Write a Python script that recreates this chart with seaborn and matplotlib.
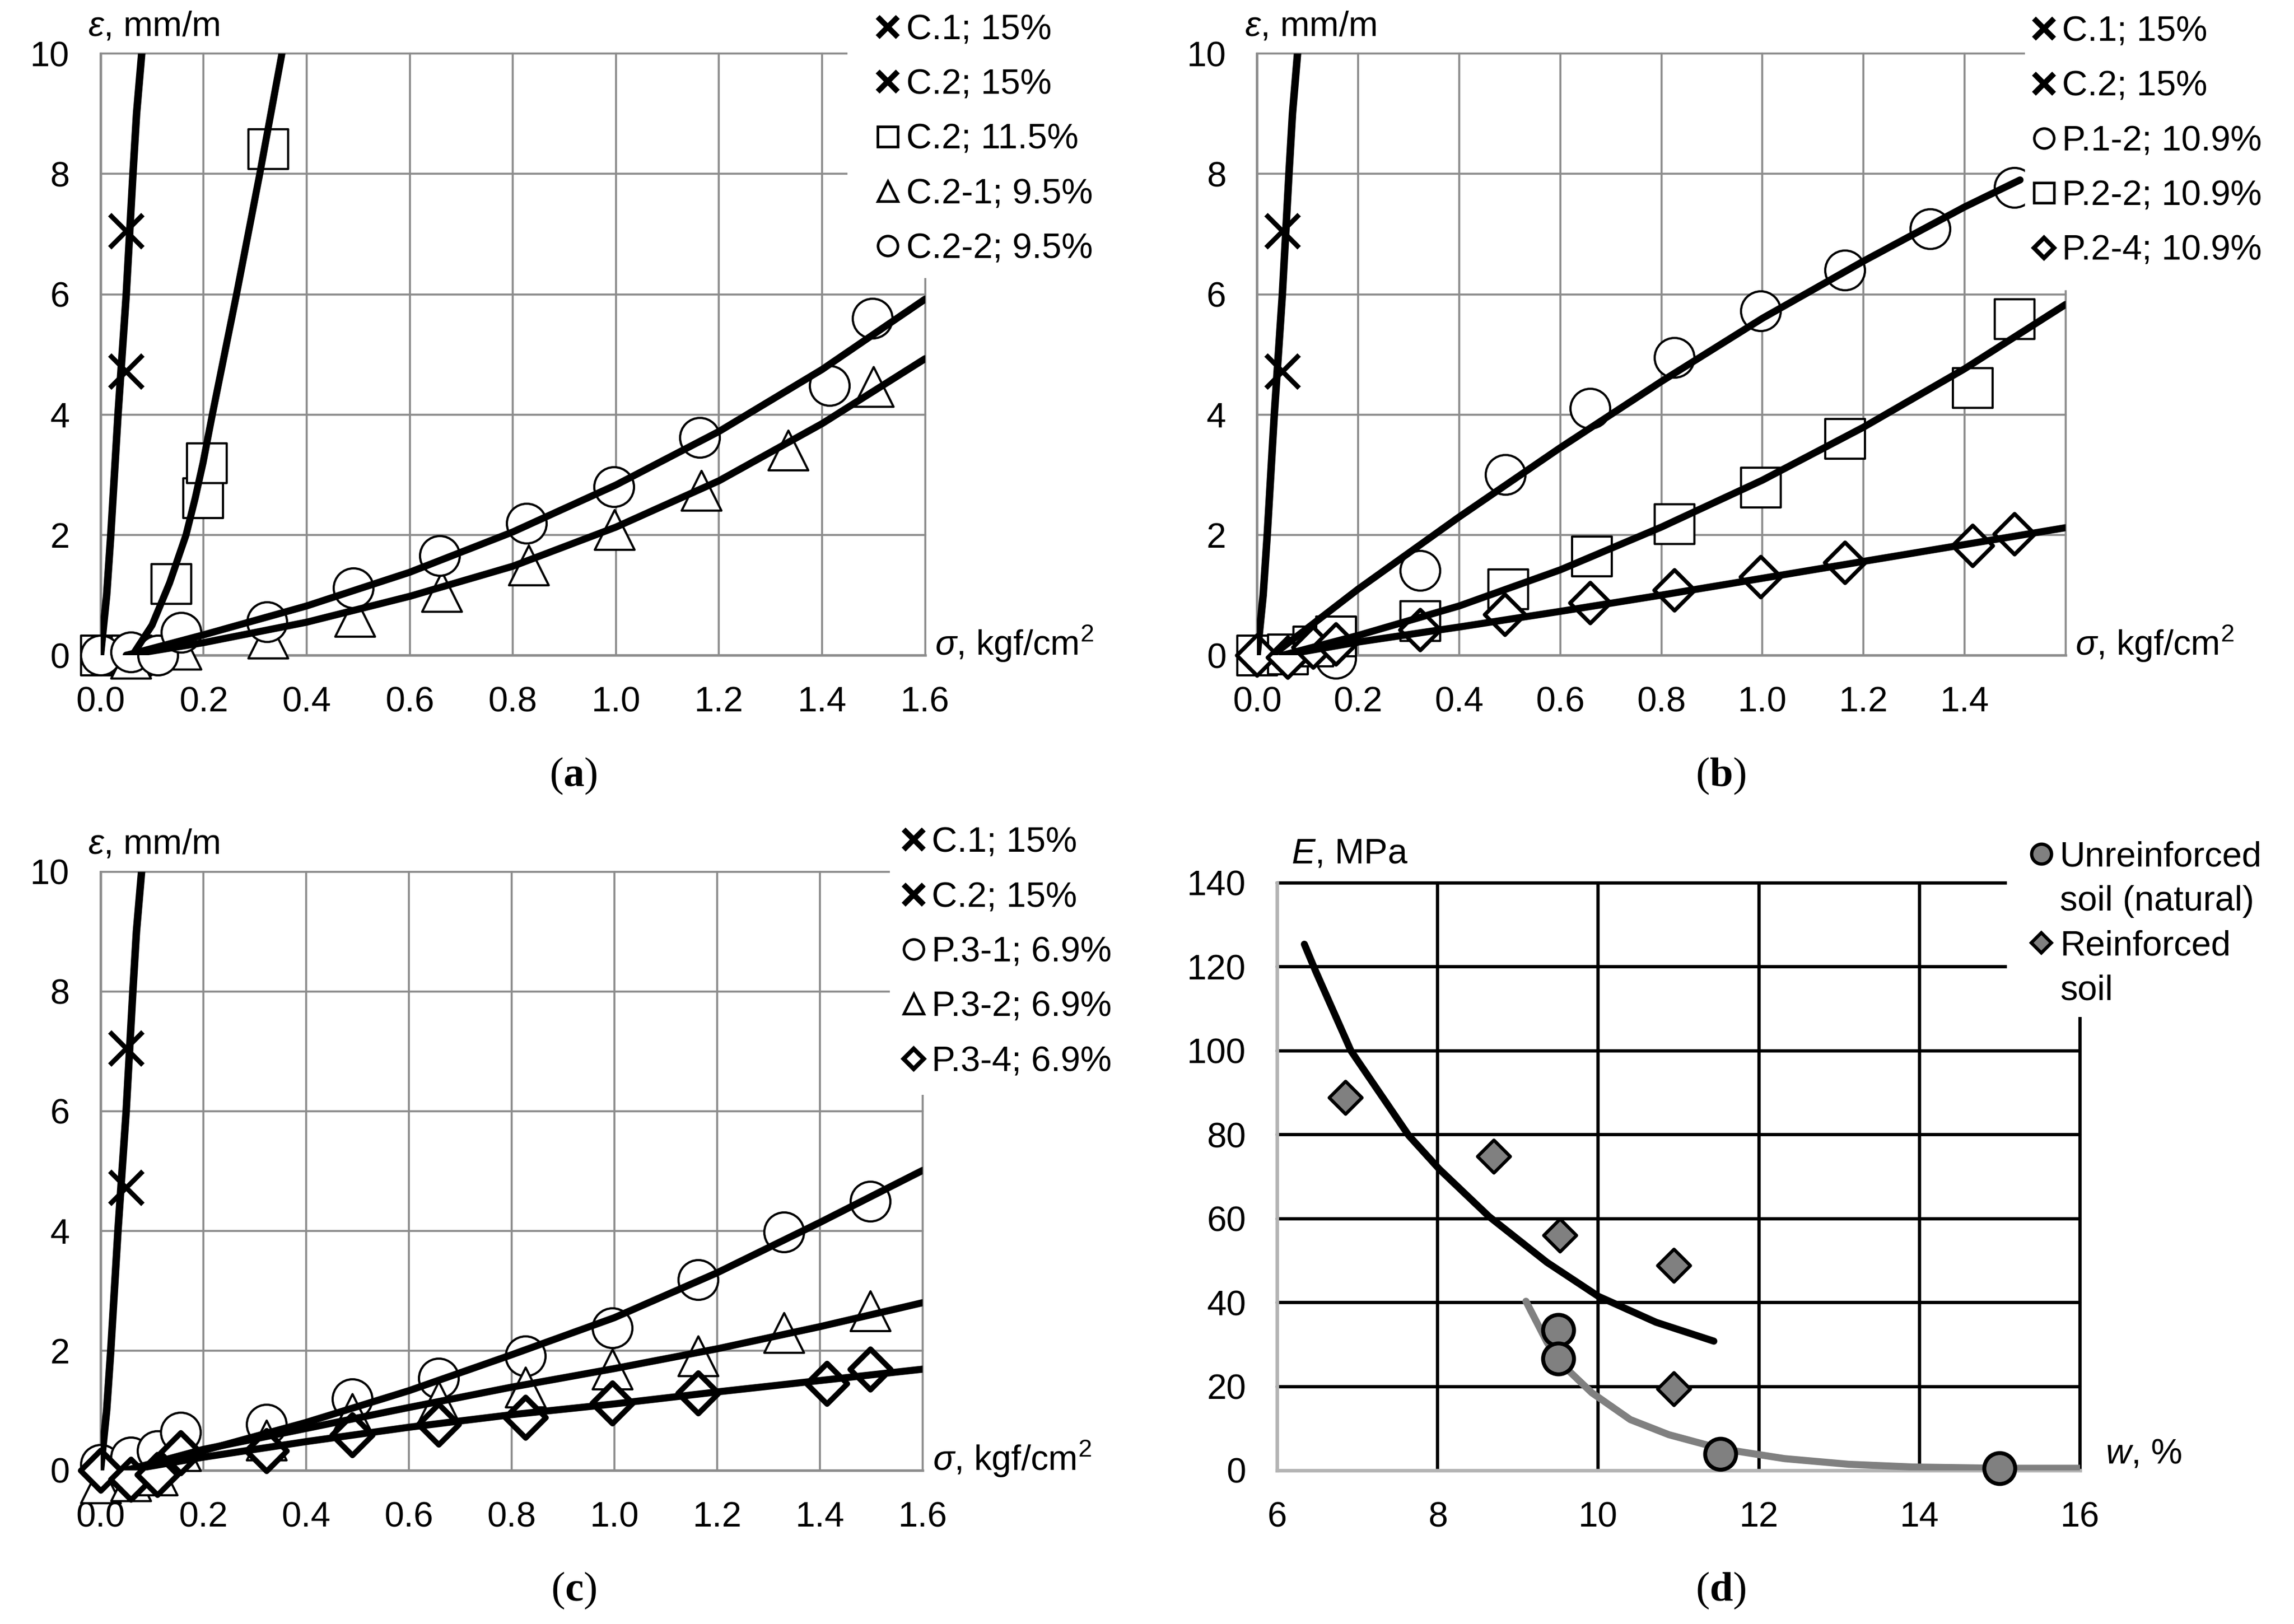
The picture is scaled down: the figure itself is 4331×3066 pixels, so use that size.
import numpy as np
import matplotlib
matplotlib.use("Agg")
import matplotlib.pyplot as plt
from matplotlib.lines import Line2D
from matplotlib.patches import Rectangle
import seaborn as sns


# ---- data ----

# sigma, kgf/cm2 -> epsilon, mm/m

# C.1 / C.2 at 15 % (same points in a, b and c)
CROSS_X = [0.05, 0.05]
CROSS_Y = [7.05, 4.72]
STEEP_X = [0.0, 0.012, 0.02, 0.034, 0.05, 0.063, 0.07, 0.08]
STEEP_Y = [0.0, 1.0, 2.0, 4.0, 6.0, 8.0, 9.0, 10.0]

# (a)
A_SQ_X = [0.0, 0.06, 0.137, 0.199, 0.206, 0.325]
A_SQ_Y = [0.0, 0.0, 1.19, 2.62, 3.2, 8.42]
A_TRI_X = [0.059, 0.156, 0.325, 0.494, 0.662, 0.831, 0.997, 1.166, 1.334, 1.5]
A_TRI_Y = [-0.05, 0.1, 0.28, 0.64, 1.06, 1.5, 2.09, 2.74, 3.41, 4.46]
A_CIR_X = [0.0, 0.059, 0.111, 0.156, 0.323, 0.49, 0.658, 0.827, 0.996, 1.163, 1.414, 1.498]
A_CIR_Y = [0.0, 0.05, 0.0, 0.38, 0.56, 1.12, 1.66, 2.19, 2.8, 3.62, 4.48, 5.6]

A_SQ_FIT_X = [0.062, 0.1, 0.134, 0.166, 0.184, 0.199, 0.217, 0.264, 0.309, 0.352]
A_SQ_FIT_Y = [0.0, 0.5, 1.2, 2.0, 2.62, 3.2, 4.0, 6.0, 8.0, 10.0]
FIT_X = [0.05, 0.2, 0.4, 0.6, 0.8, 1.0, 1.2, 1.4, 1.6]
A_TRI_FIT_Y = [0.0, 0.21, 0.55, 0.98, 1.48, 2.13, 2.9, 3.85, 4.93]
A_CIR_FIT_Y = [0.0, 0.34, 0.82, 1.38, 2.05, 2.83, 3.72, 4.75, 5.92]

# (b)
B_CIR_X = [0.0, 0.156, 0.322, 0.491, 0.659, 0.826, 0.997, 1.163, 1.332, 1.499]
B_CIR_Y = [0.0, -0.05, 1.41, 3.0, 4.1, 4.95, 5.72, 6.4, 7.09, 7.77]
B_SQ_X = [0.0, 0.06, 0.111, 0.156, 0.323, 0.496, 0.662, 0.826, 0.997, 1.163, 1.416, 1.499]
B_SQ_Y = [0.0, 0.02, 0.15, 0.32, 0.57, 1.1, 1.65, 2.18, 2.79, 3.6, 4.45, 5.59]
B_DIA_X = [0.0, 0.06, 0.111, 0.156, 0.322, 0.49, 0.659, 0.826, 0.997, 1.163, 1.416, 1.499]
B_DIA_Y = [0.0, -0.03, 0.13, 0.19, 0.42, 0.68, 0.87, 1.08, 1.3, 1.54, 1.82, 2.02]

B_CIR_FIT_X = [0.03, 0.2, 0.4, 0.6, 0.8, 1.0, 1.2, 1.4, 1.51]
B_CIR_FIT_Y = [0.0, 1.1, 2.3, 3.45, 4.55, 5.6, 6.55, 7.45, 7.9]
B_SQ_FIT_Y = [0.0, 0.33, 0.82, 1.42, 2.13, 2.91, 3.79, 4.76, 5.83]
B_DIA_FIT_Y = [0.0, 0.22, 0.47, 0.73, 1.0, 1.28, 1.56, 1.84, 2.12]

# (c)
C_X = [0.0, 0.059, 0.111, 0.156, 0.323, 0.49, 0.658, 0.827, 0.996, 1.163, 1.33, 1.498]
C_CIR_Y = [0.1, 0.22, 0.33, 0.64, 0.77, 1.19, 1.54, 1.91, 2.38, 3.18, 3.98, 4.49]
C_TRI_Y = [-0.21, -0.18, -0.08, 0.33, 0.5, 0.95, 1.15, 1.39, 1.69, 1.91, 2.3, 2.66]
C_DIA_X = [0.0, 0.059, 0.111, 0.156, 0.323, 0.49, 0.658, 0.827, 0.996, 1.163, 1.414, 1.498]
C_DIA_Y = [0.0, -0.15, -0.07, 0.29, 0.33, 0.59, 0.77, 0.88, 1.125, 1.29, 1.45, 1.69]

C_CIR_FIT_Y = [0.0, 0.33, 0.8, 1.33, 1.93, 2.55, 3.3, 4.14, 5.01]
C_TRI_FIT_Y = [0.0, 0.35, 0.7, 1.05, 1.39, 1.7, 2.03, 2.4, 2.8]
C_DIA_FIT_Y = [0.0, 0.22, 0.48, 0.72, 0.93, 1.11, 1.31, 1.5, 1.69]

# (d)  w, % -> E, MPa
D_UNR_W = [9.5, 9.5, 11.52, 15.0]
D_UNR_E = [33.5, 26.6, 3.9, 0.45]
D_REI_W = [6.85, 8.7, 9.52, 10.94, 10.94]
D_REI_E = [88.9, 74.8, 56.1, 48.9, 19.4]

D_REI_FIT_W = [6.34, 6.48, 6.92, 7.64, 8.02, 8.64, 9.36, 10.0, 10.72, 11.44]
D_REI_FIT_E = [125.4, 119.0, 100.0, 79.8, 71.8, 60.5, 49.6, 41.5, 35.3, 30.8]
D_UNR_FIT_W = [9.1, 9.36, 9.52, 9.92, 10.4, 10.88, 11.52, 12.32, 13.12, 13.92, 15.0, 16.0]
D_UNR_FIT_E = [40.3, 30.6, 25.8, 18.5, 12.1, 8.5, 5.2, 2.8, 1.45, 0.8, 0.5, 0.5]

SIG_TICKS = [0.0, 0.2, 0.4, 0.6, 0.8, 1.0, 1.2, 1.4, 1.6]
EPS_TICKS = [0, 2, 4, 6, 8, 10]
W_TICKS = [6, 8, 10, 12, 14, 16]
E_TICKS = [0, 20, 40, 60, 80, 100, 120, 140]

LABELS_A = ["C.1; 15%", "C.2; 15%", "C.2; 11.5%", "C.2-1; 9.5%", "C.2-2; 9.5%"]
LABELS_B = ["C.1; 15%", "C.2; 15%", "P.1-2; 10.9%", "P.2-2; 10.9%", "P.2-4; 10.9%"]
LABELS_C = ["C.1; 15%", "C.2; 15%", "P.3-1; 6.9%", "P.3-2; 6.9%", "P.3-4; 6.9%"]
LABELS_D = ["Unreinforced", "soil (natural)", "Reinforced", "soil"]


FS = 16
GRID = "#8c8c8c"
DGRAY = "#808080"


def points(ax, x, y, marker, size, lw, fc="white", z=3):
    if marker == "x":
        sns.scatterplot(x=x, y=y, ax=ax, marker="x", s=size ** 2, color="black",
                        linewidth=lw, zorder=z, clip_on=False, legend=False)
    else:
        sns.scatterplot(x=x, y=y, ax=ax, marker=marker, s=size ** 2, facecolor=fc,
                        edgecolor="black", linewidth=lw, zorder=z, clip_on=False,
                        legend=False)


def trend(ax, x, y, color="black", lw=3.2, z=4):
    sns.lineplot(x=x, y=y, ax=ax, color=color, linewidth=lw, estimator=None,
                 sort=False, zorder=z, legend=False)


def handle(marker, size, lw, fc="white"):
    if marker == "x":
        return Line2D([], [], ls="none", marker="x", ms=size, mew=lw, color="black")
    if marker is None:
        return Line2D([], [], ls="none", marker=None)
    return Line2D([], [], ls="none", marker=marker, ms=size, mew=lw, mfc=fc, mec="black")


def legend_box(ax, handles, labels, anchor, box, spacing):
    # white patch hides the grid behind the legend, like the original
    ax.add_patch(Rectangle(box, 0.32, 0.6, transform=ax.transAxes, facecolor="white",
                           edgecolor="none", zorder=10, clip_on=False))
    leg = ax.legend(handles, labels, loc="upper left", bbox_to_anchor=anchor,
                    frameon=False, borderpad=0, borderaxespad=0, handlelength=0.6,
                    handletextpad=0.22, labelspacing=spacing, fontsize=FS)
    leg.set_zorder(11)


def sigma_axes(ax):
    ax.set_xlim(0, 1.6)
    ax.set_ylim(0, 10)
    ax.set_xticks(SIG_TICKS, labels=[f"{v:.1f}" for v in SIG_TICKS])
    ax.set_yticks(EPS_TICKS, labels=[str(v) for v in EPS_TICKS])
    ax.grid(True, color=GRID, linewidth=0.9)
    ax.set_axisbelow(True)
    for g in ax.get_xgridlines() + ax.get_ygridlines():
        g.set_clip_on(False)
    for s in ["top", "right"]:
        ax.spines[s].set_visible(False)
    for s in ["left", "bottom"]:
        ax.spines[s].set_color(GRID)
        ax.spines[s].set_linewidth(1.1)
    ax.tick_params(length=0, pad=14, labelsize=FS)
    ax.set_xlabel("")
    ax.set_ylabel("")
    ax.text(-0.015, 1.045, r"$\mathit{ε}$, mm/m", transform=ax.transAxes,
            ha="left", va="center", fontsize=FS)
    ax.text(1.012, 0.0, r"$\mathit{σ}$, kgf/cm$^{2}$", transform=ax.transAxes,
            ha="left", va="baseline", fontsize=FS)


def steep(ax):
    points(ax, CROSS_X, CROSS_Y, "x", 15, 2.2)
    trend(ax, STEEP_X, STEEP_Y, lw=3.4)


def main():
    sns.set_theme(style="white")
    plt.rcParams["font.family"] = ["Liberation Sans", "DejaVu Sans"]
    plt.rcParams["mathtext.fontset"] = "custom"
    plt.rcParams["mathtext.rm"] = "Liberation Sans"
    plt.rcParams["mathtext.it"] = "Liberation Sans:italic"
    plt.rcParams["mathtext.bf"] = "Liberation Serif:bold"
    plt.rcParams["text.color"] = "black"
    plt.rcParams["xtick.color"] = "black"
    plt.rcParams["ytick.color"] = "black"

    fig = plt.figure(figsize=(4331 / 300, 3066 / 300), dpi=300)

    ax_a = fig.add_axes([0.0438, 0.5965, 0.3595, 0.3705])
    ax_b = fig.add_axes([0.548, 0.5965, 0.3524, 0.3705])
    ax_c = fig.add_axes([0.0438, 0.0946, 0.3584, 0.3687])
    ax_d = fig.add_axes([0.5567, 0.0946, 0.350, 0.3617])

    # (a)
    steep(ax_a)
    points(ax_a, A_SQ_X, A_SQ_Y, "s", 18, 1.0)
    points(ax_a, A_TRI_X, A_TRI_Y, "^", 18, 1.0)
    points(ax_a, A_CIR_X, A_CIR_Y, "o", 18, 1.0)
    trend(ax_a, A_SQ_FIT_X, A_SQ_FIT_Y)
    trend(ax_a, FIT_X, A_TRI_FIT_Y)
    trend(ax_a, FIT_X, A_CIR_FIT_Y)
    sigma_axes(ax_a)
    legend_box(ax_a,
               [handle("x", 9, 2.5), handle("x", 9, 2.5), handle("s", 9, 1.2),
                handle("^", 9, 1.2), handle("o", 9, 1.2)],
               LABELS_A, (0.942, 1.066), (0.906, 0.627), 0.62)

    # (b)
    steep(ax_b)
    points(ax_b, B_CIR_X, B_CIR_Y, "o", 18, 1.0)
    points(ax_b, B_SQ_X, B_SQ_Y, "s", 18, 1.0)
    points(ax_b, B_DIA_X, B_DIA_Y, "D", 13, 1.8)
    trend(ax_b, B_CIR_FIT_X, B_CIR_FIT_Y)
    trend(ax_b, FIT_X, B_SQ_FIT_Y)
    trend(ax_b, FIT_X, B_DIA_FIT_Y)
    sigma_axes(ax_b)
    legend_box(ax_b,
               [handle("x", 9, 2.5), handle("x", 9, 2.5), handle("o", 9, 1.2),
                handle("s", 9, 1.2), handle("D", 6.5, 2.0)],
               LABELS_B, (0.960, 1.063), (0.950, 0.607), 0.62)

    # (c)
    steep(ax_c)
    points(ax_c, C_X, C_CIR_Y, "o", 18, 1.0)
    points(ax_c, C_X, C_TRI_Y, "^", 18, 1.0)
    points(ax_c, C_DIA_X, C_DIA_Y, "D", 13, 2.5)
    trend(ax_c, FIT_X, C_CIR_FIT_Y)
    trend(ax_c, FIT_X, C_TRI_FIT_Y)
    trend(ax_c, FIT_X, C_DIA_FIT_Y)
    sigma_axes(ax_c)
    legend_box(ax_c,
               [handle("x", 9, 2.5), handle("x", 9, 2.5), handle("o", 9, 1.2),
                handle("^", 9, 1.2), handle("D", 6.5, 2.0)],
               LABELS_C, (0.976, 1.075), (0.960, 0.627), 0.62)

    # (d)
    trend(ax_d, D_REI_FIT_W, D_REI_FIT_E, color="black", lw=3.2, z=3)
    trend(ax_d, D_UNR_FIT_W, D_UNR_FIT_E, color=DGRAY, lw=3.2, z=3)
    points(ax_d, D_UNR_W, D_UNR_E, "o", 14, 1.8, fc=DGRAY, z=4)
    points(ax_d, D_REI_W, D_REI_E, "D", 10.5, 1.5, fc=DGRAY, z=4)
    ax_d.set_xlim(6, 16)
    ax_d.set_ylim(0, 140)
    ax_d.set_xticks(W_TICKS, labels=[str(v) for v in W_TICKS])
    ax_d.set_yticks(E_TICKS, labels=[str(v) for v in E_TICKS])
    ax_d.grid(False)
    for v in W_TICKS[1:]:
        ax_d.axvline(v, color="black", linewidth=1.5, zorder=0.5, clip_on=False)
    for v in E_TICKS[1:]:
        ax_d.axhline(v, color="black", linewidth=1.5, zorder=0.5, clip_on=False)
    for s in ["top", "right"]:
        ax_d.spines[s].set_visible(False)
    for s in ["left", "bottom"]:
        ax_d.spines[s].set_color("#b4b4b4")
        ax_d.spines[s].set_linewidth(1.6)
    ax_d.tick_params(length=0, pad=14, labelsize=FS)
    ax_d.set_xlabel("")
    ax_d.set_ylabel("")
    ax_d.text(0.018, 1.049, r"$\mathit{E}$, MPa", transform=ax_d.transAxes,
              ha="left", va="center", fontsize=FS)
    ax_d.text(1.032, 0.012, r"$\mathit{w}$, %", transform=ax_d.transAxes,
              ha="left", va="baseline", fontsize=FS)
    legend_box(ax_d,
               [handle("o", 9, 1.5, fc=DGRAY), handle(None, 0, 0),
                handle("D", 6.5, 1.5, fc=DGRAY), handle(None, 0, 0)],
               LABELS_D, (0.939, 1.072), (0.909, 0.772), 0.33)

    # panel letters
    for x, y, letter in [(0.25, 0.522, "a"), (0.75, 0.522, "b"),
                         (0.25, 0.0205, "c"), (0.75, 0.0205, "d")]:
        fig.text(x, y, "($\\mathbf{" + letter + "}$)", family="Liberation Serif",
                 fontsize=19, ha="center", va="center")

    fig.savefig("out.png", dpi=300)
    plt.close(fig)


if __name__ == "__main__":
    main()
